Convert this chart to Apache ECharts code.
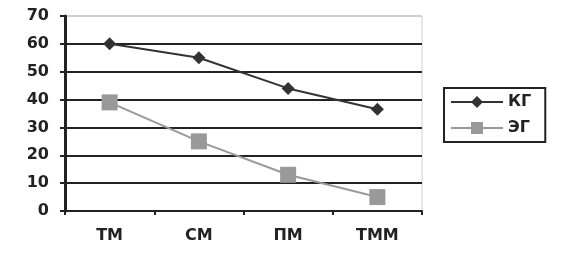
<!DOCTYPE html>
<html>
<head>
<meta charset="utf-8">
<script src="https://cdn.jsdelivr.net/npm/echarts@6/dist/echarts.min.js"></script>
<style>
  html, body { margin: 0; padding: 0; background: #fff; }
  #chart { width: 564px; height: 255px; }
</style>
</head>
<body>
<div id="chart"></div>
<script>
var categories = ['ТМ', 'СМ', 'ПМ', 'ТММ']
var kgValues = [60, 55, 44, 36.5]
var egValues = [39, 25, 13, 5]
var yTicks = [0, 10, 20, 30, 40, 50, 60, 70]

var myChart = echarts.init(document.getElementById('chart'))
var font = 'DejaVu Sans, Verdana, sans-serif'

var option = {
  animation: false,
  grid: {
    left: 65,
    right: 142,
    top: 16,
    bottom: 44,
    show: true,
    borderColor: '#d0d0d0',
    borderWidth: 1
  },
  legend: {
    orient: 'vertical',
    left: 444,
    top: 88,
    itemWidth: 52,
    itemHeight: 15,
    itemGap: 10,
    padding: [6, 14, 6, 6],
    borderColor: '#222',
    borderWidth: 2,
    textStyle: {
      color: '#222',
      fontSize: 16,
      fontWeight: 'bold',
      fontFamily: font
    },
    data: ['КГ', 'ЭГ']
  },
  xAxis: {
    type: 'category',
    data: categories,
    axisLine: { lineStyle: { color: '#222', width: 2 } },
    axisTick: { show: true, length: 4, lineStyle: { color: '#222', width: 2 } },
    axisLabel: {
      margin: 17,
      color: '#222',
      fontSize: 16,
      fontWeight: 'bold',
      fontFamily: font
    }
  },
  yAxis: {
    type: 'value',
    min: yTicks[0],
    max: yTicks[yTicks.length - 1],
    interval: 10,
    axisLine: { show: true, lineStyle: { color: '#222', width: 3 } },
    axisTick: { show: true, length: 5, lineStyle: { color: '#222', width: 2 } },
    axisLabel: {
      margin: 16,
      color: '#222',
      fontSize: 16,
      fontWeight: 'bold',
      fontFamily: font
    },
    splitLine: {
      show: true,
      lineStyle: {
        color: ['#222', '#222', '#222', '#222', '#222', '#222', '#222', '#d0d0d0'],
        width: 2
      }
    }
  },
  series: [
    {
      name: 'КГ',
      type: 'line',
      data: kgValues,
      symbol: 'diamond',
      symbolSize: 13,
      itemStyle: { color: '#333' },
      lineStyle: { color: '#333', width: 2 }
    },
    {
      name: 'ЭГ',
      type: 'line',
      data: egValues,
      symbol: 'rect',
      symbolSize: 16,
      itemStyle: { color: '#999' },
      lineStyle: { color: '#999', width: 2 }
    }
  ]
}
myChart.setOption(option)
</script>
</body>
</html>
